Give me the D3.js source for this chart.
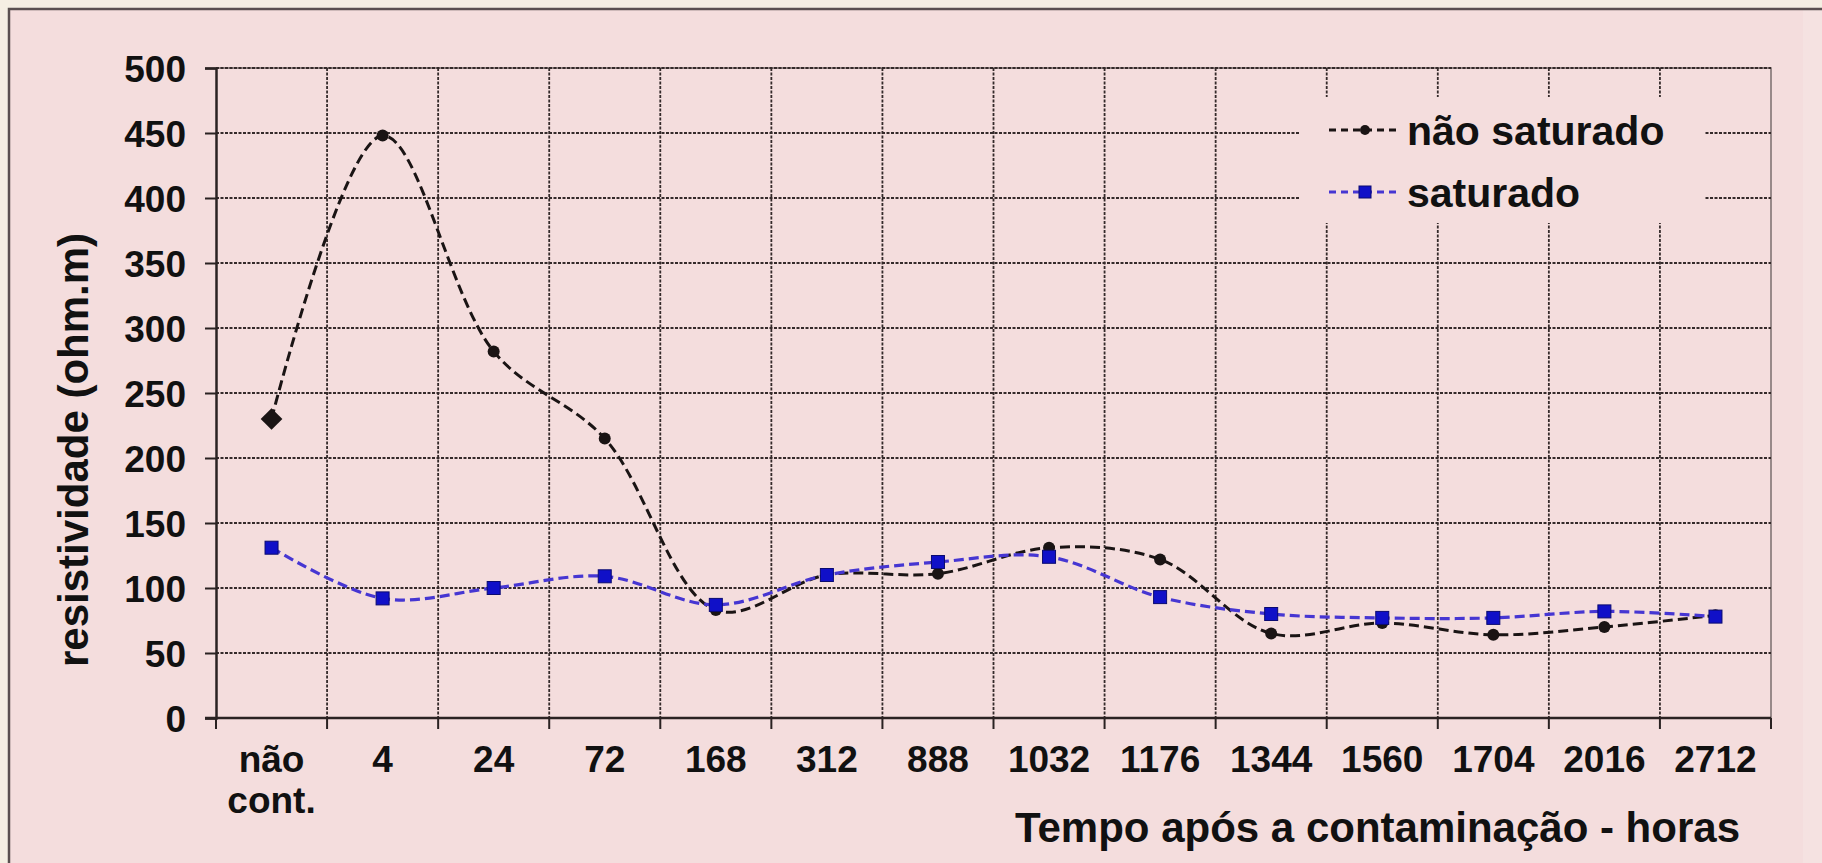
<!DOCTYPE html>
<html>
<head>
<meta charset="utf-8">
<script src="https://cdn.jsdelivr.net/npm/d3@7"></script>
<style>
  html, body { margin: 0; padding: 0; background: #f5efe3; }
  svg { display: block; }
  text { font-family: "Liberation Sans", Arial, sans-serif; font-weight: bold; fill: #111; }
</style>
</head>
<body>
<svg id="chart" width="1822" height="863"></svg>
<script>
// Time after contamination (hours); first category is the uncontaminated sample
const categories = ["não\ncont.", "4", "24", "72", "168", "312", "888", "1032", "1176", "1344", "1560", "1704", "2016", "2712"];
// Resistivity (ohm.m), unsaturated soil
const naoSaturado = [230, 448, 282, 215, 83, 110, 111, 131, 122, 65, 73, 64, 70, 79];
// Resistivity (ohm.m), saturated soil
const saturado = [131, 92, 100, 109, 87, 110, 120, 124, 93, 80, 77, 77, 82, 78];
const yTicks = [0, 50, 100, 150, 200, 250, 300, 350, 400, 450, 500];
const seriesNames = ["não saturado", "saturado"];

const svg = d3.select("#chart");
const W = 1822, H = 863;

// panel
svg.append("rect").attr("x", 0).attr("y", 0).attr("width", W).attr("height", H).attr("fill", "#f5efe3");
svg.append("rect").attr("x", 9).attr("y", 9).attr("width", W).attr("height", H).attr("fill", "#f4dddd");
svg.append("rect").attr("x", 1803).attr("y", 10).attr("width", 19).attr("height", H).attr("fill", "#f5e2e1");
svg.append("path").attr("d", `M9,${H} V9 H${W}`).attr("fill", "none").attr("stroke", "#5a5050").attr("stroke-width", 2.5);

const plot = { left: 216, right: 1771, top: 68, bottom: 718 };

const x = d3.scaleBand().domain(categories).range([plot.left, plot.right]);
const y = d3.scaleLinear().domain([0, 500]).range([plot.bottom, plot.top]);

const g = svg.append("g");

// plot frame (top/right)
g.append("path")
  .attr("d", `M${plot.left},${plot.top} H${plot.right} V${plot.bottom}`)
  .attr("fill", "none").attr("stroke", "#7a6e6e").attr("stroke-width", 1.5);

// horizontal grid
g.selectAll("line.hgrid").data(yTicks.filter(v => v > 0)).join("line")
  .attr("class", "hgrid")
  .attr("x1", plot.left).attr("x2", plot.right)
  .attr("y1", d => y(d)).attr("y2", d => y(d))
  .attr("stroke", "#342a2a").attr("stroke-width", 1.8).attr("stroke-dasharray", "3,1.5");

// vertical grid at category boundaries
const bounds = categories.slice(1).map(c => x(c));
g.selectAll("line.vgrid").data(bounds).join("line")
  .attr("class", "vgrid")
  .attr("x1", d => d).attr("x2", d => d)
  .attr("y1", plot.top).attr("y2", plot.bottom)
  .attr("stroke", "#342a2a").attr("stroke-width", 1.8).attr("stroke-dasharray", "3,1.5");

// legend background hides grid behind it
const legend = { x: 1299, y: 97, w: 406, h: 126 };
g.append("rect").attr("x", legend.x).attr("y", legend.y).attr("width", legend.w).attr("height", legend.h)
  .attr("fill", "#f4dddd");

// y axis
const yAxis = d3.axisLeft(y).tickValues(yTicks).tickSize(11).tickPadding(19).tickFormat(d3.format("d"));
const yg = g.append("g").attr("transform", `translate(${plot.left},0)`).call(yAxis);
yg.select(".domain").attr("stroke", "#2a2222").attr("stroke-width", 2.5);
yg.selectAll(".tick line").attr("stroke", "#2a2222").attr("stroke-width", 2);
yg.selectAll(".tick text").attr("font-size", 37).attr("font-family", "Liberation Sans, Arial, sans-serif")
  .attr("font-weight", "bold").attr("fill", "#111").attr("dy", "0.36em");

// x axis: ticks at category boundaries
const xg = g.append("g").attr("transform", `translate(0,${plot.bottom})`);
xg.append("line").attr("x1", plot.left - 11).attr("x2", plot.right).attr("y1", 0).attr("y2", 0)
  .attr("stroke", "#2a2222").attr("stroke-width", 2.5);
xg.selectAll("line.xt").data([plot.left, ...bounds, plot.right]).join("line")
  .attr("class", "xt")
  .attr("x1", d => d).attr("x2", d => d).attr("y1", 0).attr("y2", 11)
  .attr("stroke", "#2a2222").attr("stroke-width", 2);
const xl = xg.selectAll("text.xl").data(categories).join("text")
  .attr("class", "xl")
  .attr("x", d => x(d) + x.bandwidth() / 2)
  .attr("y", 54)
  .attr("text-anchor", "middle")
  .attr("font-size", 37);
xl.each(function(d) {
  const lines = d.split("\n");
  d3.select(this).selectAll("tspan").data(lines).join("tspan")
    .attr("x", x(d) + x.bandwidth() / 2)
    .attr("dy", (l, i) => i === 0 ? 0 : 41)
    .text(l => l);
});

// axis titles
svg.append("text")
  .attr("transform", `translate(73,${450}) rotate(-90)`)
  .attr("text-anchor", "middle").attr("dy", "0.36em")
  .attr("font-size", 42)
  .text("resistividade (ohm.m)");
svg.append("text")
  .attr("x", 1740).attr("y", 842)
  .attr("text-anchor", "end")
  .attr("font-size", 42)
  .text("Tempo após a contaminação - horas");

// series lines (smoothed)
const line = d3.line()
  .x((d, i) => x(categories[i]) + x.bandwidth() / 2)
  .y(d => y(d))
  .curve(d3.curveCatmullRom.alpha(0.5));

const blackColor = "#1a1414";
const blueLine = "#4636d2";
const blueFill = "#1010c8";

g.append("path").datum(naoSaturado).attr("d", line)
  .attr("fill", "none").attr("stroke", blackColor).attr("stroke-width", 3).attr("stroke-dasharray", "10,5");

g.selectAll("circle.ns").data(naoSaturado.slice(1)).join("circle")
  .attr("class", "ns")
  .attr("cx", (d, i) => x(categories[i + 1]) + x.bandwidth() / 2)
  .attr("cy", d => y(d))
  .attr("r", 6).attr("fill", blackColor);
// first point of this series uses a diamond marker
g.append("path")
  .attr("d", d3.symbol(d3.symbolDiamond2, 300)())
  .attr("transform", `translate(${x(categories[0]) + x.bandwidth() / 2},${y(naoSaturado[0])})`)
  .attr("fill", blackColor);

g.append("path").datum(saturado).attr("d", line)
  .attr("fill", "none").attr("stroke", blueLine).attr("stroke-width", 3.2).attr("stroke-dasharray", "10,5");

g.selectAll("rect.sat").data(saturado).join("rect")
  .attr("class", "sat")
  .attr("x", (d, i) => x(categories[i]) + x.bandwidth() / 2 - 6.5)
  .attr("y", d => y(d) - 6.5)
  .attr("width", 13).attr("height", 13)
  .attr("fill", blueFill).attr("stroke", "#0a0a70").attr("stroke-width", 1);

// legend
const lg = g.append("g");
const rows = [
  { name: seriesNames[0], color: blackColor, marker: "circle", yy: 130 },
  { name: seriesNames[1], color: blueLine, marker: "square", yy: 192 }
];
rows.forEach(r => {
  lg.append("line").attr("x1", 1329).attr("x2", 1399).attr("y1", r.yy).attr("y2", r.yy)
    .attr("stroke", r.color).attr("stroke-width", 3).attr("stroke-dasharray", "7,5");
  if (r.marker === "circle") {
    lg.append("circle").attr("cx", 1365).attr("cy", r.yy).attr("r", 5).attr("fill", blackColor);
  } else {
    lg.append("rect").attr("x", 1359).attr("y", r.yy - 6).attr("width", 12).attr("height", 12)
      .attr("fill", blueFill).attr("stroke", "#0a0a70").attr("stroke-width", 1);
  }
  lg.append("text").attr("x", 1407).attr("y", r.yy).attr("dy", "0.36em")
    .attr("font-size", 41).text(r.name);
});
</script>
</body>
</html>
